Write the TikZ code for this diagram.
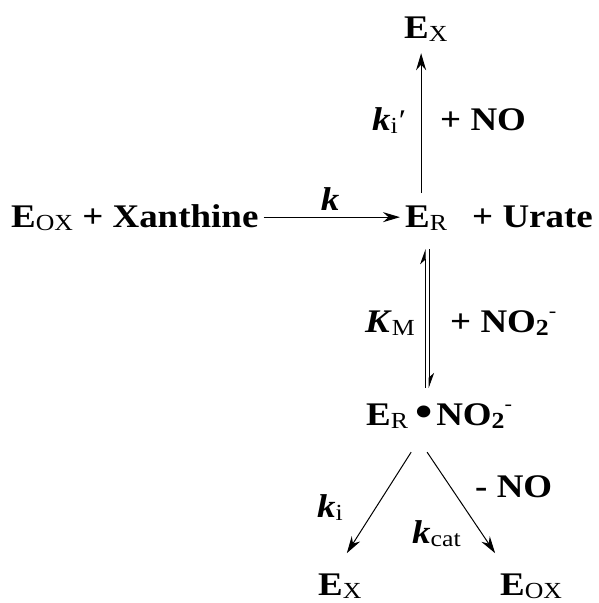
\documentclass[tikz,border=0pt]{standalone}
\usepackage{fontspec}
\setmainfont{Liberation Serif}[FakeStretch=1.12]
\usetikzlibrary{arrows.meta,calc}
\newcommand{\lowsub}[1]{\raisebox{-3pt}{\fontsize{23}{23}\selectfont\mdseries #1}}
\newcommand{\enz}[1]{E\lowsub{#1}}
\newcommand{\nitrite}{NO\raisebox{-3pt}{\fontsize{23}{23}\selectfont 2}\raisebox{15pt}{\fontsize{20}{20}\selectfont\mdseries -}}
\tikzset{
  lbl/.style={anchor=base west, inner sep=0pt},
  arr/.style={->, line width=1pt},
  hrp/.style={line width=0.8pt, -{Stealth[left, length=14pt, width=10pt]}}
}
\begin{document}
\begin{tikzpicture}[x=1pt, y=-1pt, >={Stealth[length=17pt, width=10pt]},
    font=\fontsize{33}{36}\selectfont\bfseries]
  \useasboundingbox (0,0) rectangle (598,603);
  % species
  \node[lbl] (exTop) at (404,38) {\enz{X}};
  \node[lbl] (eox) at (11,227) {\enz{OX} + Xanthine};
  \node[lbl] (er) at (405,227) {\enz{R}};
  \node[lbl] (urate) at (472,227) {+ Urate};
  \node[lbl] (cplx) at (366,425) {\enz{R}\hspace{7pt}\raisebox{-1pt}{\fontsize{44}{44}\selectfont •}\hspace{4pt}\nitrite};
  \node[lbl] (exBot) at (318,595) {\enz{X}};
  \node[lbl] (eoxBot) at (500,595) {\enz{OX}};
  % rate constants
  \node[anchor=base, inner sep=0pt] (k) at (330,210) {\textit{k}};
  \node[lbl] (kiP) at (372,130) {\textit{k}\lowsub{i}\hspace{1pt}{\mdseries\fontsize{30}{30}\selectfont ′}};
  \node[lbl] (addNO) at (440,130) {+ NO};
  \node[lbl] (km) at (365,332) {\textit{K}\lowsub{M}};
  \node[lbl] (addNit) at (450,332) {+ \nitrite};
  \node[lbl] (ki) at (317,517) {\textit{k}\lowsub{i}};
  \node[lbl] (kcat) at (412,543) {\textit{k}\lowsub{cat}};
  \node[lbl] (lossNO) at (475,497) {- NO};
  % arrows
  \draw[arr, shorten <=5pt, shorten >=5pt] (eox.east) -- (eox.east -| er.west);
  \draw[arr, shorten >=12pt] ([xshift=-5pt, yshift=12pt]er.north) -- ([xshift=-5pt]er.north |- exTop.south);
  \draw[hrp, shorten <=15pt, shorten >=19pt] ([xshift=-1pt]er.south |- cplx.north) -- ([xshift=-1pt]er.south);
  \draw[hrp, shorten <=19pt, shorten >=15pt] ([xshift=3pt]er.south) -- ([xshift=3pt]er.south |- cplx.north);
  \draw[arr] ($(cplx.south)+(-28,24)$) -- ($(exBot.north)+(7,-20)$);
  \draw[arr] ($(cplx.south)+(-12,24)$) -- ($(eoxBot.north)+(-36,-20)$);
\end{tikzpicture}
\end{document}
